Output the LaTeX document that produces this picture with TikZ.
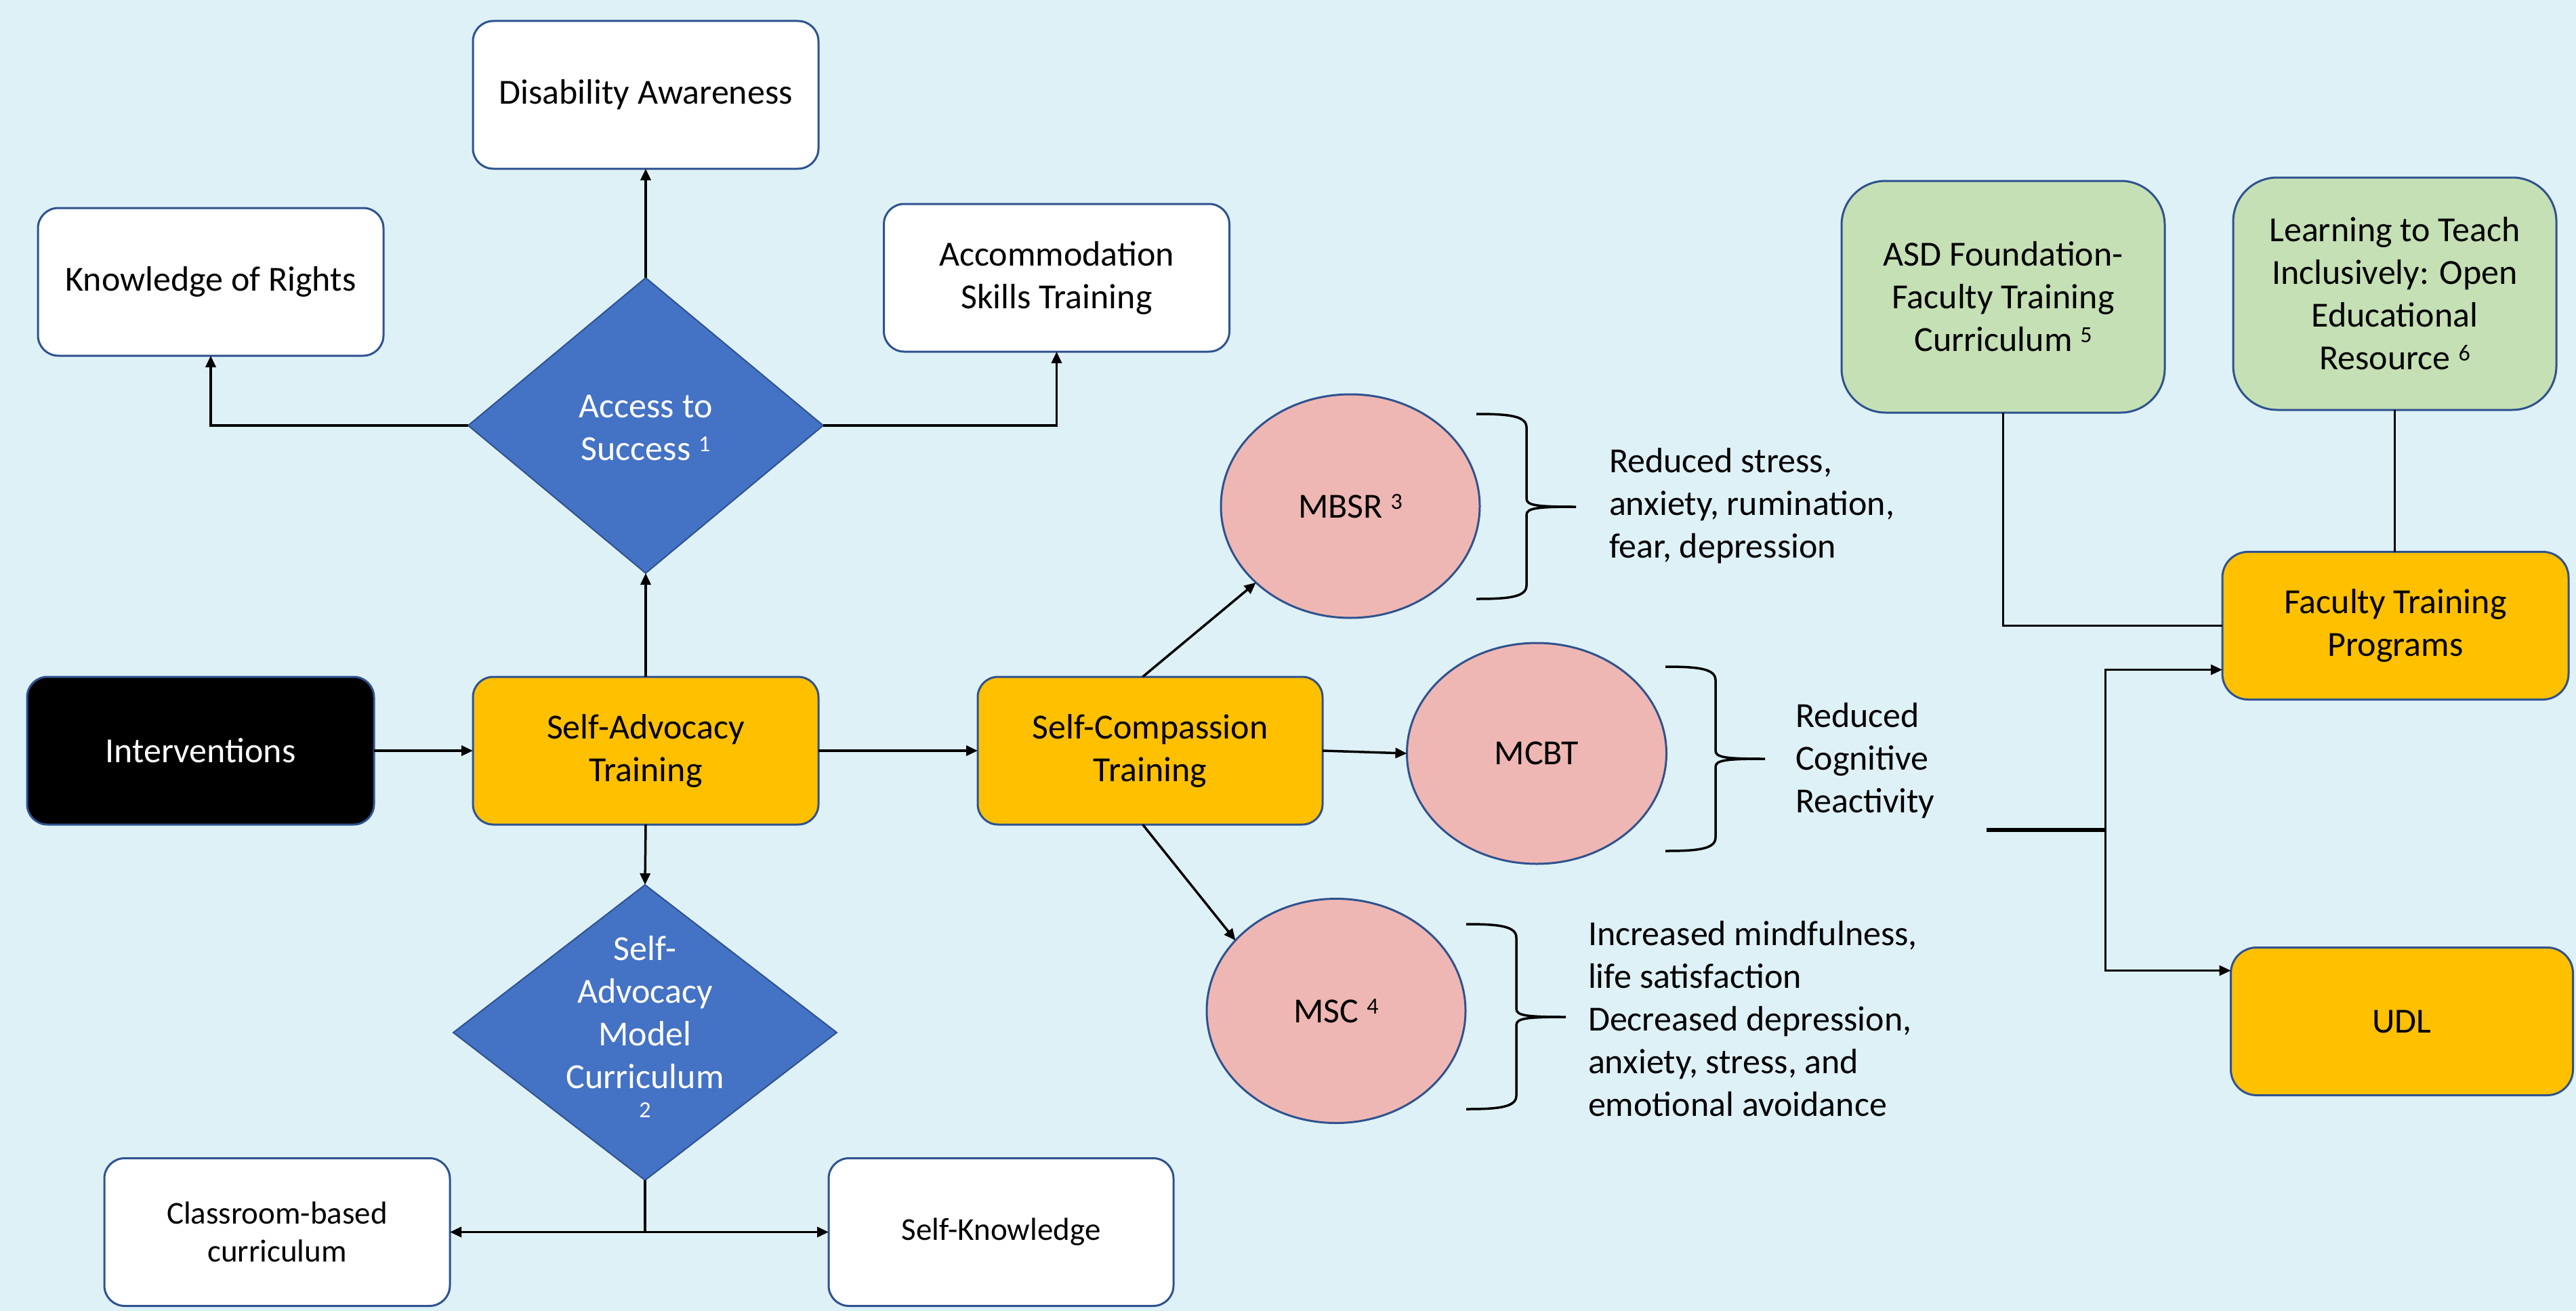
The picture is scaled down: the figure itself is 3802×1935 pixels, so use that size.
\documentclass[tikz,border=0pt]{standalone}
\usepackage{fontspec}
\setmainfont{Carlito}
\usetikzlibrary{shapes.geometric,arrows.meta,calc}
\definecolor{bgc}{RGB}{222,241,247}
\definecolor{bordc}{RGB}{47,82,143}
\definecolor{yel}{RGB}{255,192,0}
\definecolor{dblue}{RGB}{68,114,196}
\definecolor{pinkc}{RGB}{239,183,179}
\definecolor{grn}{RGB}{197,224,180}
\newcommand\sps[1]{\raisebox{13pt}{\fontsize{34}{34}\selectfont #1}}
\newcommand\mybrace[6]{%
  \draw[bracestyle] (#1,#4) .. controls (#2-25,#4) and (#2,#4+3) .. (#2,#4+20) -- (#2,#5-12)
     .. controls (#2,#5-2) and (#2+15,#5) .. (#3,#5)
     (#3,#5) .. controls (#2+15,#5) and (#2,#5+2) .. (#2,#5+12) -- (#2,#6-20)
     .. controls (#2,#6-3) and (#2-25,#6) .. (#1,#6);}
\begin{document}
\begin{tikzpicture}[x=1pt,y=-1pt,
  every node/.style={inner sep=0pt,outer sep=0pt},
  big/.style={font=\fontsize{52}{63}\selectfont,align=center},
  small/.style={font=\fontsize{47}{56}\selectfont,align=center},
  box/.style={draw=bordc,line width=3pt,rounded corners=30pt,minimum width=510pt,minimum height=218pt},
  whitebox/.style={box,fill=white,big},
  yelbox/.style={box,fill=yel,big},
  grnbox/.style={box,fill=grn,big,rounded corners=65pt,minimum width=477pt,minimum height=342pt},
  dia/.style={diamond,draw=bordc,line width=2pt,fill=dblue},
  diatext/.style={big,text=white},
  circ/.style={ellipse,draw=bordc,line width=3pt,fill=pinkc,big,minimum width=382pt,minimum height=330pt},
  txt/.style={font=\fontsize{52}{63}\selectfont,align=left},
  conn/.style={line width=3.5pt},
  arr/.style={conn,-{Triangle[length=17pt,width=15pt]}},
  darr/.style={conn,{Triangle[length=17pt,width=15pt]}-{Triangle[length=17pt,width=15pt]}},
  bracestyle/.style={line width=3.5pt}
]
\useasboundingbox (0,0) rectangle (3802,1935);
\fill[bgc] (0,0) rectangle (3802,1935);

% left part
\node[box,fill=black,text=white,big,minimum width=512pt] (int) at (296,1108) {Interventions};
\node[yelbox] (sa) at (953,1108) {Self-Advocacy\\Training};
\node[yelbox,minimum width=509pt] (sc) at (1697.5,1108) {Self-Compassion\\Training};

\node[dia,minimum width=524pt,minimum height=436pt] (ast) at (953,628) {};
\node[diatext] at (953,632) {Access to\\Success~\sps{1}};

\node[whitebox] (da) at (953,140) {Disability Awareness};
\node[whitebox] (kor) at (311,416) {Knowledge of Rights};
\node[whitebox] (acc) at (1559.5,410) {Accommodation\\Skills Training};

\node[dia,minimum width=566pt,minimum height=436pt] (samc) at (952,1524) {};
\node[diatext] at (952,1515) {Self-\\Advocacy\\Model\\Curriculum\\[-20pt]{\fontsize{34}{34}\selectfont 2}};

\node[box,fill=white,small] (crb) at (409,1818.5) {Classroom-based\\curriculum};
\node[box,fill=white,small,minimum width=509pt] (sk) at (1477.5,1818.5) {Self-Knowledge};

% circles
\node[circ] (mbsr) at (1993,747) {MBSR~\sps{3}};
\node[circ,minimum width=383pt,minimum height=326pt] (mcbt) at (2268,1112) {MCBT};
\node[circ,minimum height=331pt] (msc) at (1972,1492) {MSC~\sps{4}};

% right part
\node[grnbox] (asd) at (2956.5,438) {ASD Foundation-\\Faculty Training\\Curriculum~\sps{5}};
\node[grnbox,minimum height=343pt] (learn) at (3534.5,433.5) {Learning to Teach\\Inclusively: Open\\Educational\\Resource~\sps{6}};
\node[yelbox,rounded corners=38pt,minimum width=511pt] (ft) at (3535.5,923.5) {Faculty Training\\Programs};
\node[yelbox,rounded corners=38pt,minimum width=505pt] (udl) at (3545,1507.5) {UDL};

% texts
\node[txt,anchor=west] (t1) at (2375,747) {Reduced stress,\\anxiety, rumination,\\fear, depression};
\node[txt,anchor=west] (t2) at (2650,1123) {Reduced\\Cognitive\\Reactivity};
\node[txt,anchor=west] (t3) at (2344,1504) {Increased mindfulness,\\life satisfaction\\Decreased depression,\\anxiety, stress, and\\emotional avoidance};

% braces
\mybrace{2179}{2253}{2326}{611}{748}{884}
\mybrace{2458}{2532}{2605}{984}{1120}{1256}
\mybrace{2164}{2238}{2311}{1364}{1501}{1637}

% connectors
\draw[arr] (int.east) -- (sa.west);
\draw[arr] (sa.east) -- (sc.west);
\draw[arr] (sa.north) -- (ast.south);
\draw[arr] (ast.north) -- (da.south);
\draw[arr] (ast.west) -| (kor.south);
\draw[arr] (ast.east) -| (acc.south);
\draw[arr] (sa.south) -- (samc.north);
\draw[conn] (samc.south) -- (samc.south |- crb.east);
\draw[darr] (crb.east) -- (sk.west);

\coordinate (scn) at ($(sc.north)+(-11,0)$);
\coordinate (scs) at ($(sc.south)+(-11,0)$);
\draw[arr] (scn) -- (mbsr.219);
\draw[arr] (sc.east) -- (mcbt.west);
\draw[arr] (scs) -- (msc.145);

\draw[conn] (asd.south) |- (ft.west);
\draw[conn] (learn.south) -- (learn.south |- ft.north);

\coordinate (fs) at (2932,1225);
\coordinate (fk) at (3107,1225);
\draw[line width=5.5pt] (fs) -- (fk);
\draw[arr,line width=3pt] (fk) |- ($(ft.west)+(0,65)$);
\draw[arr,line width=3pt] (fk) |- ($(udl.west)+(0,-75)$);
\end{tikzpicture}
\end{document}
